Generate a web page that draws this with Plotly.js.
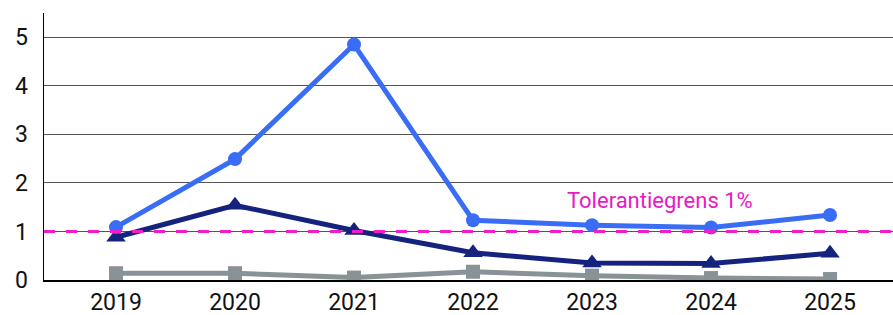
<!DOCTYPE html>
<html>
<head>
<meta charset="utf-8">
<script src="https://cdn.plot.ly/plotly-3.0.1.min.js"></script>
<style>html,body{margin:0;padding:0;background:#fff;}#chart{width:893px;height:315px;}</style>
</head>
<body>
<div id="chart"></div>
<script>
const years = ['2019', '2020', '2021', '2022', '2023', '2024', '2025'];
const seriesBlue = [1.09, 2.49, 4.85, 1.23, 1.13, 1.08, 1.34];
const seriesNavy = [0.88, 1.54, 1.02, 0.56, 0.35, 0.34, 0.55];
const seriesGray = [0.14, 0.14, 0.05, 0.17, 0.09, 0.04, 0.02];
const toleranceValue = 1;
const toleranceLabel = 'Tolerantiegrens 1%';
const yTicks = [0, 1, 2, 3, 4, 5];

const traces = [
  {x: years, y: seriesGray, type: 'scatter', mode: 'lines+markers',
   line: {color: '#899296', width: 5}, marker: {symbol: 'square', size: 14, color: '#899296'}},
  {x: years, y: seriesNavy, type: 'scatter', mode: 'lines+markers',
   line: {color: '#15237f', width: 5}, marker: {symbol: 'triangle-up', size: 17, color: '#15237f'}},
  {x: years, y: seriesBlue, type: 'scatter', mode: 'lines+markers',
   line: {color: '#3a6df6', width: 5}, marker: {symbol: 'circle', size: 14, color: '#3a6df6'}}
];

const layout = {
  width: 893, height: 315,
  margin: {l: 44, r: 0, t: 13, b: 35},
  paper_bgcolor: '#fff', plot_bgcolor: '#fff',
  showlegend: false,
  font: {family: 'Roboto, sans-serif', size: 23, color: '#111'},
  xaxis: {type: 'category', range: [-0.605, 6.529], showgrid: false, zeroline: false,
          showline: true, linecolor: '#000', linewidth: 1.5, ticks: '', ticklabelstandoff: 1,
          tickfont: {size: 23, color: '#111'}, fixedrange: true},
  yaxis: {range: [0, 5.5], tickvals: yTicks, ticktext: yTicks.map(String),
          showgrid: true, gridcolor: '#555', gridwidth: 1, zeroline: false,
          showline: true, linecolor: '#000', linewidth: 1.5, ticks: '', ticklabelstandoff: 10,
          tickfont: {size: 23, color: '#111'}, fixedrange: true},
  shapes: [{type: 'line', xref: 'paper', x0: 0, x1: 1, yref: 'y', y0: toleranceValue, y1: toleranceValue,
            line: {color: '#ee1fc8', width: 3, dash: '11px,11px'}, layer: 'above'}],
  annotations: [{x: 4.57, y: 1.63, xref: 'x', yref: 'y', text: toleranceLabel, showarrow: false,
                 xanchor: 'center', yanchor: 'middle', font: {size: 22, color: '#e61ac4', family: 'Roboto, sans-serif'}}]
};

Plotly.newPlot('chart', traces, layout, {displayModeBar: false, staticPlot: true});
</script>
</body>
</html>
